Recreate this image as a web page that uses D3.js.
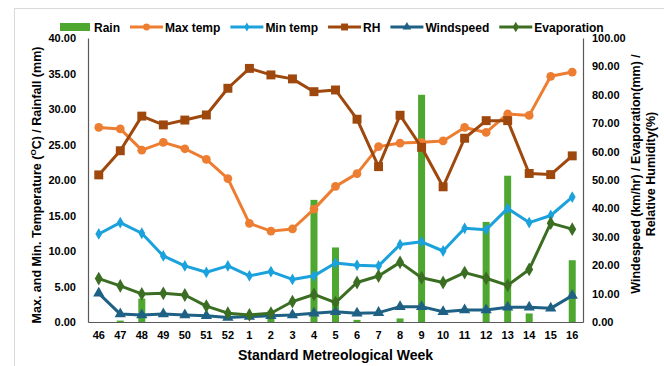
<!DOCTYPE html>
<html>
<head>
<meta charset="utf-8">
<script src="https://cdn.jsdelivr.net/npm/d3@7"></script>
<style>
  body { margin: 0; background: #fff; }
  svg { font-family: "Liberation Sans", Arial, sans-serif; }
</style>
</head>
<body>
<div id="chart"></div>
<script>
// data
const weeks = ["46", "47", "48", "49", "50", "51", "52", "1", "2", "3", "4", "5", "6", "7", "8", "9", "10", "11", "12", "13", "14", "15", "16"];
const rain = [0, 0.2, 3.3, 0, 0, 0, 0, 0, 1.6, 0, 17.2, 10.5, 0.3, 0, 0.5, 32.0, 0, 0, 14.1, 20.6, 1.2, 0, 8.7];
const maxTemp = [27.4, 27.2, 24.2, 25.3, 24.4, 22.9, 20.2, 13.9, 12.8, 13.1, 15.9, 19.1, 20.9, 24.7, 25.2, 25.3, 25.5, 27.4, 26.7, 29.3, 29.1, 34.6, 35.2];
const minTemp = [12.4, 14.0, 12.5, 9.3, 7.9, 7.0, 7.9, 6.5, 7.1, 6.0, 6.5, 8.3, 8.0, 7.9, 10.9, 11.3, 10.0, 13.2, 13.0, 16.0, 14.0, 15.0, 17.6];
const rh = [51.8, 60.3, 72.5, 69.4, 71.1, 72.9, 82.3, 89.3, 87.0, 85.6, 81.1, 81.7, 71.4, 54.7, 72.8, 61.5, 47.6, 64.7, 70.9, 70.9, 52.3, 51.9, 58.5];
const windspeed = [10.1, 2.8, 2.5, 2.8, 2.5, 2.2, 1.6, 1.9, 2.2, 2.5, 3.1, 3.6, 3.1, 3.3, 5.4, 5.4, 3.6, 4.2, 4.2, 5.2, 5.2, 4.8, 9.3];
const evaporation = [15.3, 12.7, 9.9, 10.1, 9.5, 5.6, 3.1, 2.5, 3.1, 7.2, 9.7, 6.8, 13.9, 16.2, 21.0, 15.6, 13.9, 17.4, 15.4, 12.9, 18.5, 34.8, 32.7];
const leftTicks = [0, 5, 10, 15, 20, 25, 30, 35, 40];
const rightTicks = [0, 10, 20, 30, 40, 50, 60, 70, 80, 90, 100];

const width = 664, height = 366;
const margin = { top: 38, right: 81, bottom: 44, left: 88 };
const innerW = width - margin.left - margin.right;
const innerH = height - margin.top - margin.bottom;

const svg = d3.select("#chart").append("svg")
    .attr("width", width)
    .attr("height", height);

// chart frame
svg.append("rect")
    .attr("x", 14.5).attr("y", 8.5)
    .attr("width", 700).attr("height", 400)
    .attr("fill", "none")
    .attr("stroke", "#d9d9d9");

const g = svg.append("g")
    .attr("transform", `translate(${margin.left},${margin.top})`);

const x = d3.scaleBand().domain(weeks).range([0, innerW]);
const yL = d3.scaleLinear().domain([0, 40]).range([innerH, 0]);
const yR = d3.scaleLinear().domain([0, 100]).range([innerH, 0]);
const cx = d => x(d) + x.bandwidth() / 2;

// rain bars
const barW = 7;
g.selectAll(".rain")
    .data(rain.map((v, i) => ({ w: weeks[i], v })))
    .join("rect")
    .attr("x", d => cx(d.w) - barW / 2)
    .attr("y", d => yL(d.v))
    .attr("width", barW)
    .attr("height", d => innerH - yL(d.v))
    .attr("fill", "#4ea72e");

// axes
const tickFmt = d3.format(".2f");
const axL = g.append("g")
    .call(d3.axisLeft(yL).tickValues(leftTicks).tickFormat(tickFmt).tickSize(0).tickPadding(12));
const axR = g.append("g")
    .attr("transform", `translate(${innerW},0)`)
    .call(d3.axisRight(yR).tickValues(rightTicks).tickFormat(tickFmt).tickSize(0).tickPadding(9));
const axB = g.append("g")
    .attr("transform", `translate(0,${innerH})`)
    .call(d3.axisBottom(x).tickSize(0).tickPadding(9));
[axL, axR, axB].forEach(a => {
    a.select(".domain").attr("stroke", "#595959").attr("stroke-width", 1.2);
    a.selectAll("text")
        .attr("font-family", "Liberation Sans, Arial, sans-serif")
        .attr("font-size", 11)
        .attr("font-weight", "bold")
        .attr("fill", "#000");
});

// series
const series = [
    { name: "Max temp", vals: maxTemp, y: yL, color: "#ed7d31", shape: d3.symbolCircle, size: 60 },
    { name: "Min temp", vals: minTemp, y: yL, color: "#1ba1dc", shape: d3.symbolDiamond, size: 40 },
    { name: "RH", vals: rh, y: yR, color: "#9e480e", shape: d3.symbolSquare, size: 80 },
    { name: "Windspeed", vals: windspeed, y: yR, color: "#1f6184", shape: d3.symbolTriangle, size: 55 },
    { name: "Evaporation", vals: evaporation, y: yR, color: "#3b6e22", shape: d3.symbolDiamond, size: 55 }
];

series.forEach(s => {
    const pts = s.vals.map((v, i) => [cx(weeks[i]), s.y(v)]);
    g.append("path")
        .attr("d", d3.line()(pts))
        .attr("fill", "none")
        .attr("stroke", s.color)
        .attr("stroke-width", 3)
        .attr("stroke-linejoin", "round");
    g.selectAll(null)
        .data(pts)
        .join("path")
        .attr("transform", d => `translate(${d[0]},${d[1]})`)
        .attr("d", d3.symbol().type(s.shape).size(s.size))
        .attr("fill", s.color);
});

// axis titles
svg.append("text")
    .attr("transform", "translate(41,185) rotate(-90)")
    .attr("text-anchor", "middle")
    .attr("font-size", 12.5)
    .attr("font-weight", "bold")
    .html('Max. and Min. Temperature (<tspan font-size="8" dy="-5">O</tspan><tspan dy="5">C) / Rainfall (mm)</tspan>');

svg.append("text")
    .attr("transform", "translate(640,174) rotate(-90)")
    .attr("text-anchor", "middle")
    .attr("font-size", 12.5)
    .attr("font-weight", "bold")
    .selectAll("tspan")
    .data(["Windespeed (km/hr) / Evaporation(mm) /", "Relative Humidity(%)"])
    .join("tspan")
    .attr("x", 0)
    .attr("dy", (d, i) => i === 0 ? 0 : 15)
    .text(d => d);

svg.append("text")
    .attr("x", margin.left + innerW / 2)
    .attr("y", 360)
    .attr("text-anchor", "middle")
    .attr("font-size", 14)
    .attr("font-weight", "bold")
    .text("Standard Metreological Week");

// legend
const legend = svg.append("g").attr("transform", "translate(60,27)");
const items = [{ name: "Rain", color: "#4ea72e", bar: true }].concat(series);
let lx = 0;
items.forEach(it => {
    const item = legend.append("g").attr("transform", `translate(${lx},0)`);
    if (it.bar) {
        item.append("rect").attr("x", 0).attr("y", -4).attr("width", 30).attr("height", 8).attr("fill", it.color);
    } else {
        item.append("line").attr("x1", 0).attr("x2", 33).attr("stroke", it.color).attr("stroke-width", 3);
        item.append("path").attr("transform", "translate(16.5,0)")
            .attr("d", d3.symbol().type(it.shape).size(it.size * 0.6)).attr("fill", it.color);
    }
    const t = item.append("text")
        .attr("x", it.bar ? 34 : 35)
        .attr("y", 4.5)
        .attr("font-size", 12)
        .attr("font-weight", "bold")
        .text(it.name);
    lx += (it.bar ? 34 : 35) + t.node().getComputedTextLength() + 10;
});
</script>
</body>
</html>
